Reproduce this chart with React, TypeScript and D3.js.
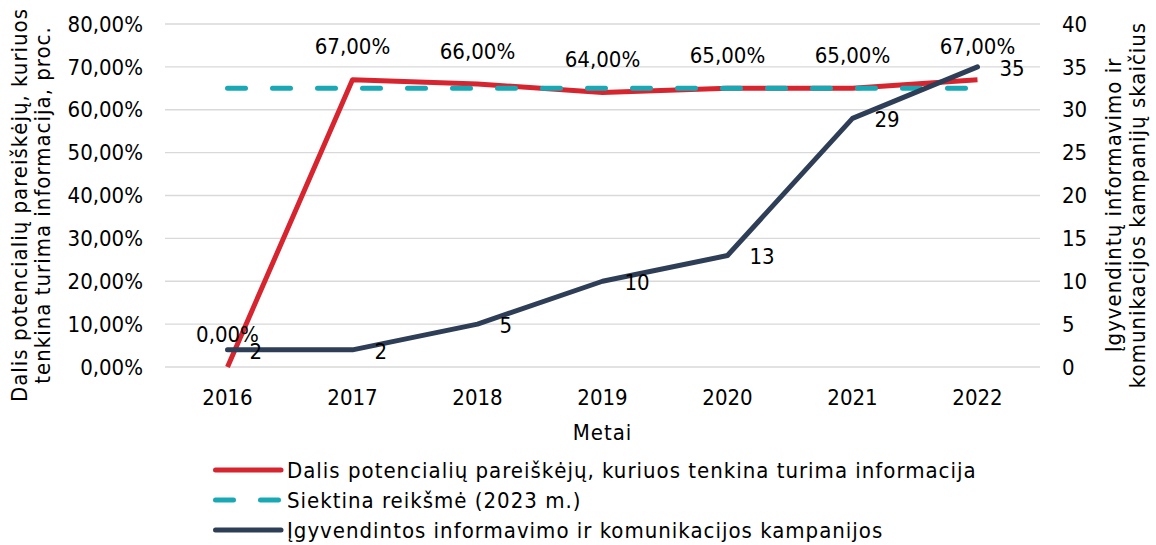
import React from 'react';
import * as d3 from 'd3';

const years = ['2016', '2017', '2018', '2019', '2020', '2021', '2022'];
const shareValues = [0, 67, 66, 64, 65, 65, 67];
const targetValues = [65, 65, 65, 65, 65, 65, 65];
const campaignValues = [2, 2, 5, 10, 13, 29, 35];
const leftTicks = [0, 10, 20, 30, 40, 50, 60, 70, 80];
const rightTicks = [0, 5, 10, 15, 20, 25, 30, 35, 40];

const legendItems = [
  { label: 'Dalis potencialių pareiškėjų, kuriuos tenkina turima informacija', color: '#d7252f', dash: '' },
  { label: 'Siektina reikšmė (2023 m.)', color: '#19a9b5', dash: '18 27' },
  { label: 'Įgyvendintos informavimo ir komunikacijos kampanijos', color: '#2e3e57', dash: '' },
];

const W = 1156;
const H = 545;
const font = '"DejaVu Sans Condensed", "DejaVu Sans", sans-serif';
const fs = 22;
const ls = 1; // letter spacing for word labels

export default function App() {
  const margin = { left: 165, right: 1040, top: 24, bottom: 367 };

  const x = d3.scaleBand<string>().domain(years).range([margin.left, margin.right]);
  const cx = (y: string) => (x(y) as number) + x.bandwidth() / 2;
  const yL = d3.scaleLinear().domain([0, 80]).range([margin.bottom, margin.top]);
  const yR = d3.scaleLinear().domain([0, 40]).range([margin.bottom, margin.top]);

  const lineL = d3.line<number>().x((_, i) => cx(years[i])).y(d => yL(d));
  const lineR = d3.line<number>().x((_, i) => cx(years[i])).y(d => yR(d));
  const pct = (v: number) => d3.format('.2f')(v).replace('.', ',') + '%';

  return (
    <svg width={W} height={H} style={{ position: 'absolute', left: 0, top: 0 }} fontFamily={font} fontSize={fs}>
      <rect width={W} height={H} fill="#fff" />
      {leftTicks.map(t => (
        <g key={t}>
          <line x1={margin.left} x2={margin.right} y1={yL(t)} y2={yL(t)} stroke="#d9d9d9" strokeWidth={1.3} />
          <text x={143} y={yL(t)} dy="0.35em" textAnchor="end">{pct(t)}</text>
        </g>
      ))}
      {rightTicks.map(t => (
        <text key={t} x={1062} y={yR(t)} dy="0.35em" textAnchor="start">{t}</text>
      ))}
      {years.map(y => (
        <text key={y} x={cx(y)} y={397} dy="0.35em" textAnchor="middle">{y}</text>
      ))}
      <text x={cx('2019')} y={432} dy="0.35em" textAnchor="middle" letterSpacing={ls}>Metai</text>

      <text transform="translate(19,205) rotate(-90)" textAnchor="middle" dy="0.35em" letterSpacing={ls}>Dalis potencialių pareiškėjų, kuriuos</text>
      <text transform="translate(42,205) rotate(-90)" textAnchor="middle" dy="0.35em" letterSpacing={ls}>tenkina turima informacija, proc.</text>
      <text transform="translate(1113,205) rotate(-90)" textAnchor="middle" dy="0.35em" letterSpacing={ls}>Įgyvendintų informavimo ir</text>
      <text transform="translate(1137,205) rotate(-90)" textAnchor="middle" dy="0.35em" letterSpacing={ls}>komunikacijos kampanijų skaičius</text>

      <path d={lineL(shareValues) ?? ''} fill="none" stroke="#d7252f" strokeWidth={5} strokeLinejoin="round" />
      <path d={lineL(targetValues) ?? ''} fill="none" stroke="#19a9b5" strokeWidth={5} strokeDasharray="18 27" strokeLinecap="round" />
      <path d={lineR(campaignValues) ?? ''} fill="none" stroke="#2e3e57" strokeWidth={5} strokeLinejoin="round" strokeLinecap="round" />

      {shareValues.map((v, i) => (
        <text key={'s' + i} x={cx(years[i])} y={yL(v) - 33} dy="0.35em" textAnchor="middle">{pct(v)}</text>
      ))}
      {campaignValues.map((v, i) => (
        <text key={'c' + i} x={cx(years[i]) + 22} y={yR(v) + 1} dy="0.35em" textAnchor="start">{v}</text>
      ))}

      {legendItems.map((it, i) => (
        <g key={it.label} transform={`translate(213,${470 + i * 30})`}>
          <line x1={2.5} x2={68} y1={0} y2={0} stroke={it.color} strokeWidth={5} strokeDasharray={it.dash || undefined} strokeLinecap="round" />
          <text x={74} y={0} dy="0.35em" letterSpacing={ls}>{it.label}</text>
        </g>
      ))}
    </svg>
  );
}
